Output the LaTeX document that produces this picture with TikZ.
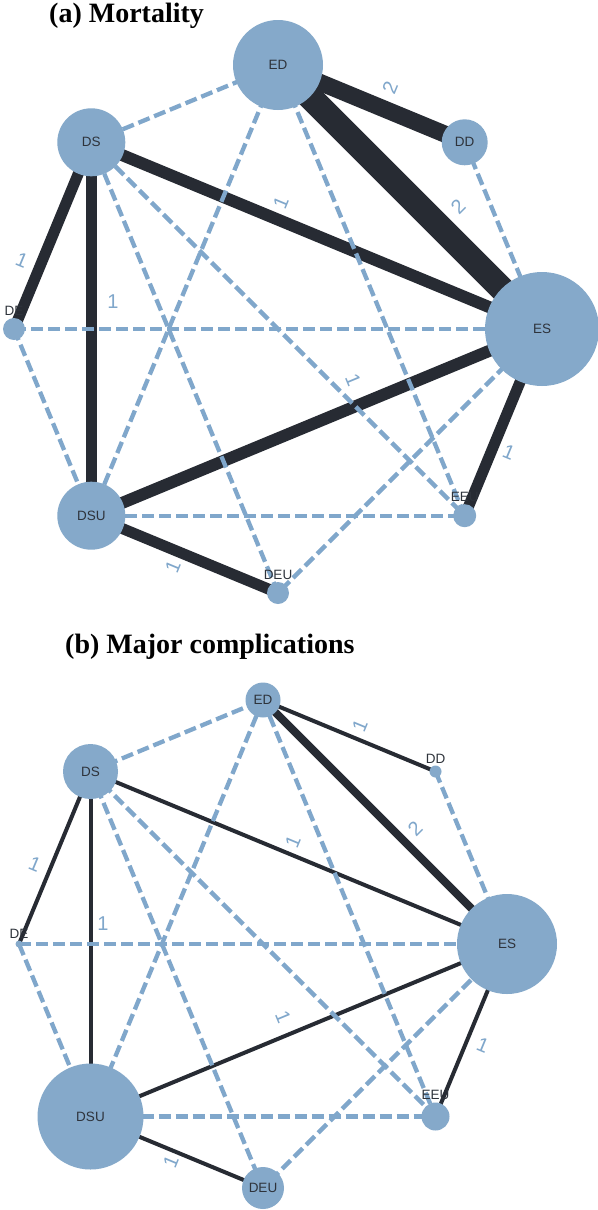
\documentclass[tikz,border=0pt]{standalone}
\usepackage{fontspec}
\setmainfont{Liberation Serif}
\newfontfamily\lsans{Liberation Sans}
\pgfdeclarelayer{bg}
\pgfsetlayers{bg,main}
\definecolor{nodeblue}{HTML}{85A9CA}
\definecolor{dashblue}{HTML}{80A7CB}
\definecolor{darkedge}{HTML}{272B33}
\definecolor{nodetext}{HTML}{2E333B}
\begin{document}
\begin{tikzpicture}[x=1pt,y=-1pt,
  nd/.style={circle, fill=nodeblue, inner sep=0pt, minimum size=#1,
    font=\lsans\fontsize{13.5}{14}\selectfont, text=nodetext},
  lab/.style={label={[font=\lsans\fontsize{13.5}{14}\selectfont, text=nodetext,
    inner sep=0pt, label distance=2pt]above:#1}},
  solidedge/.style={draw=darkedge, line width=#1},
  dashedge/.style={draw=dashblue, line width=4.3pt, dash pattern=on 12pt off 5pt},
  elab/.style={font=\lsans\fontsize{20}{21}\selectfont, text=dashblue, inner sep=0pt},
  ttl/.style={anchor=base west, inner sep=0pt, font=\bfseries\fontsize{28}{30}\selectfont}
]
\useasboundingbox (0,0) rectangle (597,1210);

% ---------- (a) Mortality ----------
\node[ttl] (ta) at (49,22) {(a) Mortality};
\node[nd=90pt] (aED) at (278,65) {ED};
\node[nd=68pt] (aDS) at (91.3,142.3) {DS};
\node[nd=46pt] (aDD) at (464.7,142.3) {DD};
\node[nd=114pt] (aES) at (542,329) {ES};
\node[nd=68pt] (aDSU) at (91.3,515.7) {DSU};
\node[nd=22pt, lab=DE] (aDE) at (14,329) {};
\node[nd=23pt, lab=EEU] (aEEU) at (464.7,515.7) {};
\node[nd=22pt, lab=DEU] (aDEU) at (278,593) {};

\begin{pgfonlayer}{bg}
\fill[white] (0,0) rectangle (597,1210);
\draw[solidedge=17pt] (aED.center) -- (aDD.center);
\draw[solidedge=25pt] (aED.center) -- (aES.center);
\draw[solidedge=12pt] (aDS.center) -- (aES.center);
\draw[solidedge=11pt] (aDS.center) -- (aDE.center);
\draw[solidedge=11pt] (aDS.center) -- (aDSU.center);
\draw[solidedge=12pt] (aDSU.center) -- (aES.center);
\draw[solidedge=11pt] (aES.center) -- (aEEU.center);
\draw[solidedge=11pt] (aDSU.center) -- (aDEU.center);
\draw[dashedge] (aDS.center) -- (aED.center);
\draw[dashedge] (aED.center) -- (aDSU.center);
\draw[dashedge] (aED.center) -- (aEEU.center);
\draw[dashedge] (aDD.center) -- (aES.center);
\draw[dashedge] (aDS.center) -- (aDEU.center);
\draw[dashedge] (aDS.center) -- (aEEU.center);
\draw[dashedge] (aDE.center) -- (aES.center);
\draw[dashedge] (aDE.center) -- (aDSU.center);
\draw[dashedge] (aDSU.center) -- (aEEU.center);
\draw[dashedge] (aES.center) -- (aDEU.center);
\end{pgfonlayer}

\node[elab, rotate=67.5] (la1) at (390,88) {2};
\node[elab, rotate=45] (la2) at (458,207) {2};
\node[elab, rotate=67.5] (la3) at (281,203) {1};
\node[elab, rotate=-22.5] (la4) at (22,260) {1};
\node[elab] (la5) at (113,302) {1};
\node[elab, rotate=-67.5] (la6) at (353,380) {1};
\node[elab, rotate=-22.5] (la7) at (509,452) {1};
\node[elab, rotate=67.5] (la8) at (173,567) {1};

% ---------- (b) Major complications ----------
\node[ttl] (tb) at (65,653) {(b) Major complications};
\node[nd=35pt] (bED) at (263,700) {ED};
\node[nd=55pt] (bDS) at (90.5,771.5) {DS};
\node[nd=12pt, lab=DD] (bDD) at (435.5,771.5) {};
\node[nd=100pt] (bES) at (507,944) {ES};
\node[nd=106pt] (bDSU) at (90.5,1116.5) {DSU};
\node[nd=7pt, lab=DE] (bDE) at (19,944) {};
\node[nd=28pt, lab=EEU] (bEEU) at (435.5,1116.5) {};
\node[nd=42pt] (bDEU) at (263,1188) {DEU};

\begin{pgfonlayer}{bg}
\draw[solidedge=4pt] (bED.center) -- (bDD.center);
\draw[solidedge=8pt] (bED.center) -- (bES.center);
\draw[solidedge=4pt] (bDS.center) -- (bES.center);
\draw[solidedge=4pt] (bDS.center) -- (bDE.center);
\draw[solidedge=4pt] (bDS.center) -- (bDSU.center);
\draw[solidedge=4pt] (bDSU.center) -- (bES.center);
\draw[solidedge=4pt] (bES.center) -- (bEEU.center);
\draw[solidedge=4pt] (bDSU.center) -- (bDEU.center);
\draw[dashedge] (bDS.center) -- (bED.center);
\draw[dashedge] (bED.center) -- (bDSU.center);
\draw[dashedge] (bED.center) -- (bEEU.center);
\draw[dashedge] (bDD.center) -- (bES.center);
\draw[dashedge] (bDS.center) -- (bDEU.center);
\draw[dashedge] (bDS.center) -- (bEEU.center);
\draw[dashedge] (bDE.center) -- (bES.center);
\draw[dashedge] (bDE.center) -- (bDSU.center);
\draw[dashedge] (bDSU.center) -- (bEEU.center);
\draw[dashedge] (bES.center) -- (bDEU.center);
\end{pgfonlayer}

\node[elab, rotate=67.5] (lb1) at (360,726) {1};
\node[elab, rotate=45] (lb2) at (415,829) {2};
\node[elab, rotate=67.5] (lb3) at (293,842) {1};
\node[elab, rotate=-22.5] (lb4) at (35,864) {1};
\node[elab] (lb5) at (103,924) {1};
\node[elab, rotate=-67.5] (lb6) at (283,1017) {1};
\node[elab, rotate=-22.5] (lb7) at (483,1045) {1};
\node[elab, rotate=67.5] (lb8) at (171,1162) {1};
\end{tikzpicture}
\end{document}
